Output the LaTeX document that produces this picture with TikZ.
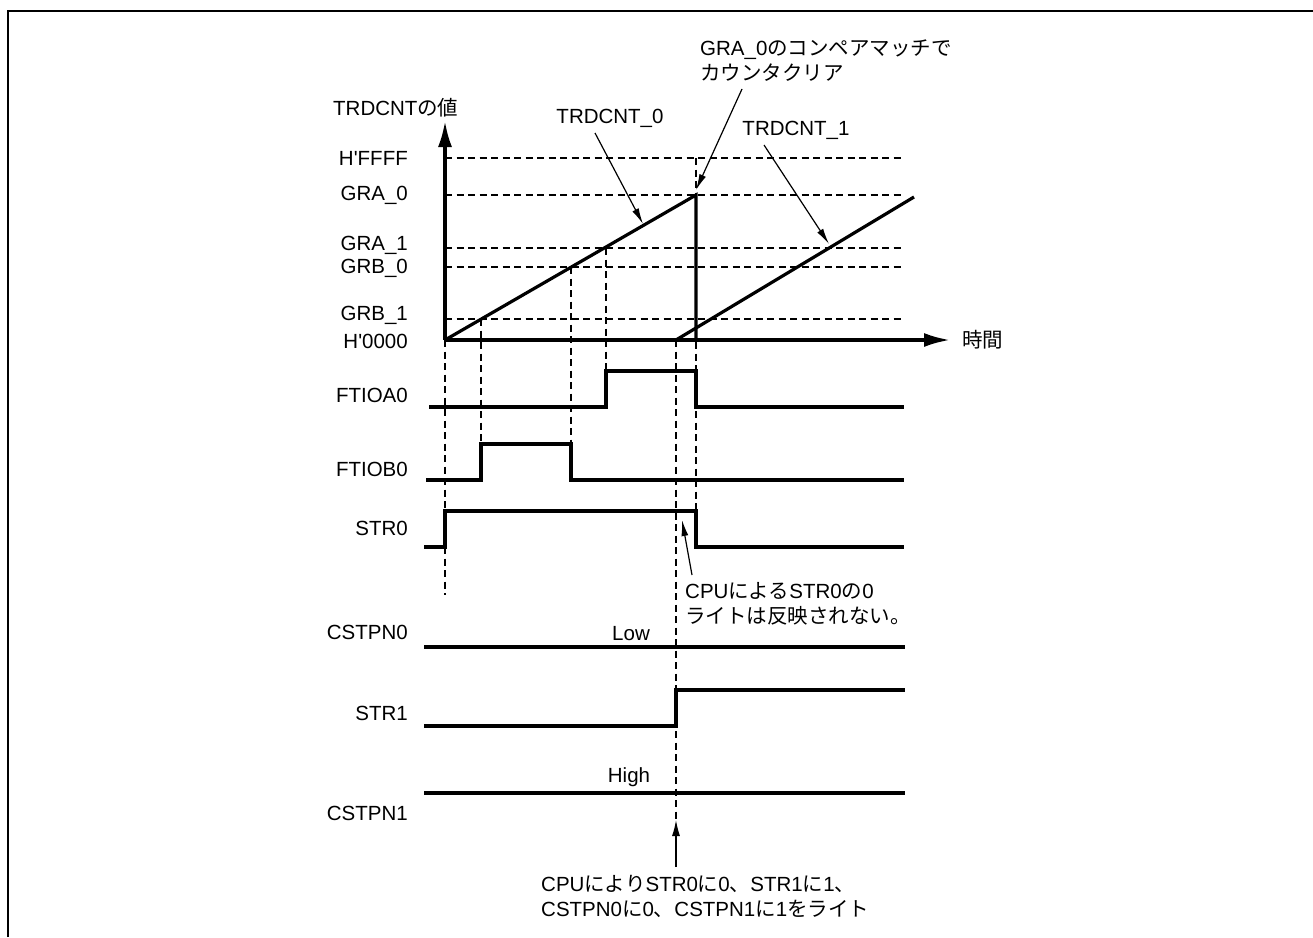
\documentclass[tikz,border=0pt]{standalone}
\usepackage{fontspec}
\setmainfont{Liberation Sans}
\newfontfamily\cjk{Noto Sans CJK JP}
\newcommand{\jp}[1]{{\cjk #1}}
\newcommand{\pr}{\textquotesingle}
\usetikzlibrary{arrows.meta}
\begin{document}
\begin{tikzpicture}[x=1pt,y=-1pt,
  lbl/.style={inner sep=0pt,font=\fontsize{20.5}{25}\selectfont},
  sig/.style={line width=3.2pt,line join=miter},
  guide/.style={line width=1.4pt,dash pattern=on 7pt off 4.5pt},
  axis/.style={line width=3.2pt,-{Latex[length=26pt,width=14pt]}},
  note/.style={line width=1.2pt,-{Latex[length=16pt,width=7pt]}}]
\useasboundingbox (0,0) rectangle (1313,937);
% frame
\draw[line width=2.6pt] (8,937) -- (8,11) -- (1313,11);
% coordinates
\coordinate (O) at (445,340);
\coordinate (Ytop) at (445,121);
\coordinate (Xend) at (950,340);
% level guides
\foreach \yy in {158,195,248,267,319}{\draw[guide] (445,\yy) -- (905,\yy);}
% vertical guides
\draw[guide] (445,340) -- (445,595);
\draw[guide] (481,319) -- (481,444);
\draw[guide] (571,267) -- (571,444);
\draw[guide] (606,248) -- (606,371);
\draw[guide] (696,158) -- (696,511);
\draw[guide] (676,340) -- (676,820);
% axes
\draw[axis] (O) -- (Ytop);
\draw[axis] (O) -- (Xend);
% ramps
\draw[sig] (O) -- (696,195) -- (696,340);
\draw[sig] (676,340) -- (914,197);
% level labels
\node[lbl,anchor=east] (lffff) at (408,158) {H\pr FFFF};
\node[lbl,anchor=east] (lgra0) at (408,195) {GRA\_0};
\node[lbl,anchor=east] (lgra1) at (408,245) {GRA\_1};
\node[lbl,anchor=east] (lgrb0) at (408,268) {GRB\_0};
\node[lbl,anchor=east] (lgrb1) at (408,315) {GRB\_1};
\node[lbl,anchor=east] (l0000) at (408,341) {H\pr 0000};
\node[lbl,anchor=west] (ylab) at (333,108) {TRDCNT\jp{の値}};
\node[lbl,anchor=west] (xlab) at (962,340) {\jp{時間}};
% signals
\draw[sig] (429,407) -- (606,407) -- (606,371) -- (696,371) -- (696,407) -- (904,407);
\draw[sig] (426,480) -- (481,480) -- (481,444) -- (571,444) -- (571,480) -- (904,480);
\draw[sig] (424,547) -- (445,547) -- (445,511) -- (696,511) -- (696,547) -- (904,547);
\draw[sig] (424,647) -- (905,647);
\draw[sig] (424,726) -- (676,726) -- (676,690) -- (905,690);
\draw[sig] (424,793) -- (905,793);
% signal labels
\node[lbl,anchor=east] (sa) at (408,395) {FTIOA0};
\node[lbl,anchor=east] (sb) at (408,469) {FTIOB0};
\node[lbl,anchor=east] (s0) at (408,528) {STR0};
\node[lbl,anchor=east] (c0) at (408,632) {CSTPN0};
\node[lbl,anchor=east] (s1) at (408,713) {STR1};
\node[lbl,anchor=east] (c1) at (408,813) {CSTPN1};
\node[lbl] (low) at (631,634) {Low};
\node[lbl] (high) at (629,777) {High};
% annotations
\node[lbl,align=left,anchor=west] (clr) at (700,61) {GRA\_0\jp{のコンペアマッチで}\\\jp{カウンタクリア}};
\coordinate (clrA) at (742,89);
\coordinate (clrB) at (696,190);
\draw[note] (clrA) -- (clrB);
\node[lbl] (t0) at (610,118) {TRDCNT\_0};
\coordinate (t0A) at (595,133);
\coordinate (t0B) at (643,224);
\draw[note] (t0A) -- (t0B);
\node[lbl] (t1) at (796,130) {TRDCNT\_1};
\coordinate (t1A) at (764,145);
\coordinate (t1B) at (829,244);
\draw[note] (t1A) -- (t1B);
\node[lbl,align=left,anchor=west] (wr) at (685,604) {CPU\jp{による}STR0\jp{の}0\\\jp{ライトは反映されない。}};
\coordinate (wrA) at (692,575);
\coordinate (wrB) at (682,520);
\draw[note] (wrA) -- (wrB);
\node[lbl,align=left,anchor=west] (cpu) at (541,896) {CPU\jp{により}STR0\jp{に}0\jp{、}STR1\jp{に}1\jp{、}\\CSTPN0\jp{に}0\jp{、}CSTPN1\jp{に}1\jp{をライト}};
\coordinate (cpuA) at (676,867);
\coordinate (cpuB) at (676,820);
\draw[note,-{Latex[length=16pt,width=8pt]}] (cpuA) -- (cpuB);
\end{tikzpicture}
\end{document}
